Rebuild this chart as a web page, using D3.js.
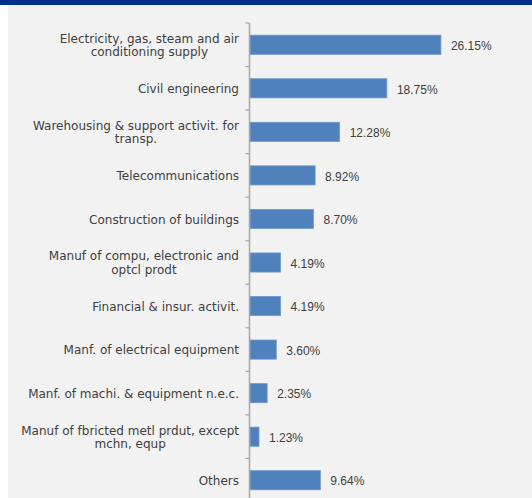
<!DOCTYPE html>
<html>
<head>
<meta charset="utf-8">
<script src="https://cdn.jsdelivr.net/npm/d3@7"></script>
<style>
  html, body { margin: 0; padding: 0; background: #ffffff; }
  svg { display: block; }
</style>
</head>
<body>
<svg id="chart" width="532" height="498"></svg>
<script>
// Share of investment by sector (%), largest first, "Others" last
const categories = [
  "Electricity, gas, steam and air\nconditioning supply",
  "Civil engineering",
  "Warehousing & support activit. for\ntransp.",
  "Telecommunications",
  "Construction of buildings",
  "Manuf of compu, electronic and\noptcl prodt",
  "Financial & insur. activit.",
  "Manf. of electrical equipment",
  "Manf. of machi. & equipment n.e.c.",
  "Manuf of fbricted metl prdut, except\nmchn, equp",
  "Others"
];
const shares = [26.15, 18.75, 12.28, 8.92, 8.70, 4.19, 4.19, 3.60, 2.35, 1.23, 9.64];
const valueLabels = ["26.15%", "18.75%", "12.28%", "8.92%", "8.70%", "4.19%", "4.19%", "3.60%", "2.35%", "1.23%", "9.64%"];

const W = 532, H = 498;
const FONT = "'DejaVu Sans', sans-serif";
const VALUE_FONT = "'Liberation Sans', Arial, sans-serif";
const TEXT = "#404040";

const svg = d3.select("#chart");

// panel background and header strip
svg.append("rect").attr("x", 8).attr("y", 0).attr("width", W - 8).attr("height", H).attr("fill", "#f2f2f2");
svg.append("rect").attr("x", 0).attr("y", 0).attr("width", W).attr("height", 5).attr("fill", "#06308f");

const data = categories.map((c, i) => ({ cat: c, v: shares[i], label: valueLabels[i] }));

const y = d3.scaleBand()
  .domain(categories)
  .range([23, 502])
  .paddingInner(0.56)
  .paddingOuter(0.28);

const x = d3.scaleLinear().domain([0, 30]).range([250, 469]);

// bars
svg.append("g").selectAll("rect")
  .data(data)
  .join("rect")
  .attr("x", x(0))
  .attr("y", d => y(d.cat))
  .attr("width", d => x(d.v) - x(0))
  .attr("height", y.bandwidth())
  .attr("fill", "#4f81bd")
  .attr("stroke", "#7299cc")
  .attr("stroke-width", 0.8);

// category axis with ticks at band boundaries
const axisG = svg.append("g");
const bandStep = y.step();
const axisTop = y.range()[0];
axisG.append("line")
  .attr("x1", 249.5).attr("x2", 249.5)
  .attr("y1", axisTop).attr("y2", H + 5)
  .attr("stroke", "#a6a6a6").attr("stroke-width", 1.5);
axisG.selectAll("line.tick")
  .data(d3.range(categories.length + 1))
  .join("line")
  .attr("class", "tick")
  .attr("x1", 245.5).attr("x2", 249.5)
  .attr("y1", i => axisTop + i * bandStep)
  .attr("y2", i => axisTop + i * bandStep)
  .attr("stroke", "#a6a6a6").attr("stroke-width", 1.2);

// category labels: lines centered on each other, block right aligned near the axis
const lineH = 13.5;
const labels = svg.append("g")
  .attr("font-family", FONT)
  .attr("font-size", 12)
  .attr("fill", TEXT)
  .attr("text-anchor", "middle");

labels.selectAll("g")
  .data(data)
  .join("g")
  .each(function (d) {
    const lines = d.cat.split("\n");
    const cy = y(d.cat) + y.bandwidth() / 2 + 0.5;
    const g = d3.select(this);
    const y0 = cy - (lines.length - 1) * lineH / 2;
    const texts = lines.map((l, k) => g.append("text")
      .attr("y", y0 + k * lineH)
      .attr("dy", "0.35em")
      .text(l));
    const maxW = d3.max(texts, t => t.node().getComputedTextLength());
    texts.forEach(t => t.attr("x", 239 - maxW / 2));
  });

// value labels
svg.append("g")
  .attr("font-family", VALUE_FONT)
  .attr("font-size", 12)
  .attr("fill", TEXT)
  .selectAll("text")
  .data(data)
  .join("text")
  .attr("x", d => x(d.v) + 10)
  .attr("y", d => y(d.cat) + y.bandwidth() / 2 + 1)
  .attr("dy", "0.35em")
  .text(d => d.label);
</script>
</body>
</html>
